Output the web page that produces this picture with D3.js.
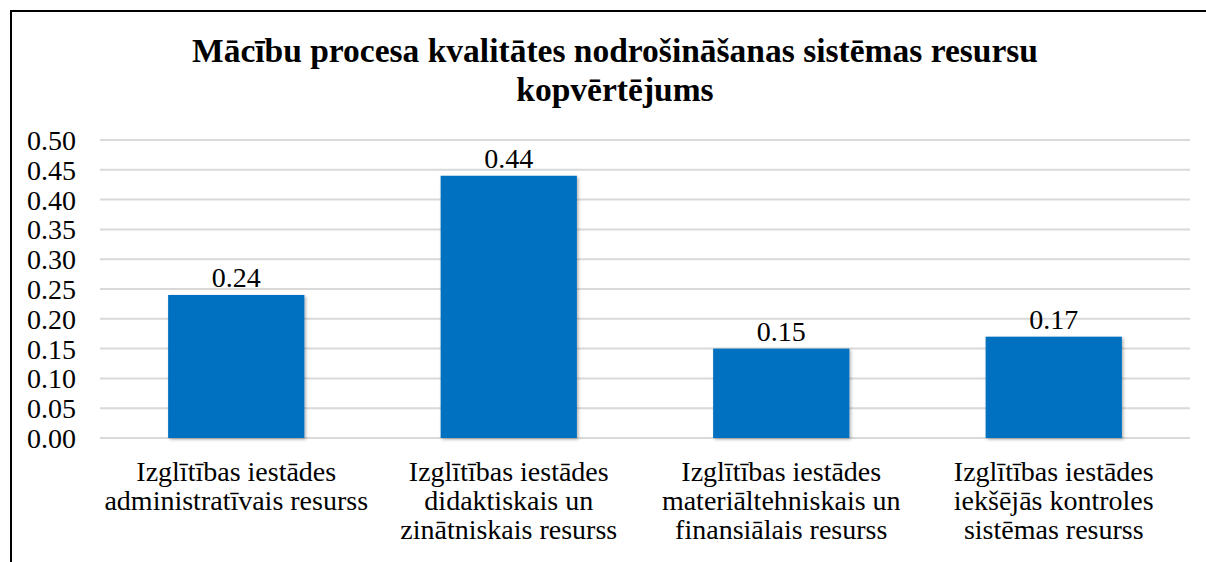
<!DOCTYPE html>
<html>
<head>
<meta charset="utf-8">
<script src="https://cdn.jsdelivr.net/npm/d3@7"></script>
<style>
  body { margin: 0; background: #fff; }
</style>
</head>
<body>
<svg id="chart" width="1206" height="562"></svg>
<script>
var categories = [
  ["Izglītības iestādes", "administratīvais resurss"],
  ["Izglītības iestādes", "didaktiskais un", "zinātniskais resurss"],
  ["Izglītības iestādes", "materiāltehniskais un", "finansiālais resurss"],
  ["Izglītības iestādes", "iekšējās kontroles", "sistēmas resurss"]
]
var values = [0.24, 0.44, 0.15, 0.17]
var yTicks = [0, 0.05, 0.1, 0.15, 0.2, 0.25, 0.3, 0.35, 0.4, 0.45, 0.5]
var titleLines = ["Mācību procesa kvalitātes nodrošināšanas sistēmas resursu", "kopvērtējums"]

var FONT = "Liberation Serif"

var margin = {top: 140, left: 100},
    width = 1090,
    height = 298;

const svg = d3.select("#chart")

// frame
svg.append("rect")
  .attr("x", 11).attr("y", 11)
  .attr("width", 1206).attr("height", 600)
  .attr("fill", "none")
  .attr("stroke", "#000")
  .attr("stroke-width", 2)

// title
svg.append("text")
  .attr("text-anchor", "middle")
  .attr("font-family", FONT)
  .attr("font-size", "33.5px")
  .attr("font-weight", "bold")
  .selectAll("tspan")
  .data(titleLines)
  .join("tspan")
  .attr("x", 615)
  .attr("y", (d, i) => 62 + i * 39)
  .text(d => d)

const g = svg.append("g")
  .attr("transform", `translate(${margin.left}, ${margin.top})`)

const x = d3.scaleBand()
  .range([0, width])
  .domain(d3.range(categories.length))
  .paddingInner(0.5)
  .paddingOuter(0.25)

const y = d3.scaleLinear()
  .domain([0, 0.5])
  .range([height, 0])

// gridlines
g.append("g")
  .selectAll("line")
  .data(yTicks)
  .join("line")
  .attr("x1", 0)
  .attr("x2", width)
  .attr("y1", d => y(d))
  .attr("y2", d => y(d))
  .attr("stroke", "#d9d9d9")
  .attr("stroke-width", 2)

// y axis labels
const yAxis = g.append("g")
  .call(d3.axisLeft(y).tickValues(yTicks).tickFormat(d3.format(".2f")).tickSize(0).tickPadding(24))
yAxis.attr("font-family", FONT).attr("font-size", "28px")
yAxis.select(".domain").remove()
yAxis.selectAll("text")
  .attr("fill", "#000")
  .attr("dy", "0.34em")

// shadow
const defs = svg.append("defs")
const f = defs.append("filter").attr("id", "sh").attr("x", "-10%").attr("y", "-10%").attr("width", "130%").attr("height", "130%")
f.append("feDropShadow").attr("dx", 1.5).attr("dy", 1.5).attr("stdDeviation", 1.5).attr("flood-color", "#000").attr("flood-opacity", 0.3)

g.selectAll(".bar")
  .data(values)
  .join("rect")
  .attr("class", "bar")
  .attr("x", (d, i) => x(i))
  .attr("y", d => y(d))
  .attr("width", x.bandwidth())
  .attr("height", d => y(0) - y(d))
  .attr("fill", "#0070C0")
  .attr("filter", "url(#sh)")

// value labels
g.selectAll(".val")
  .data(values)
  .join("text")
  .attr("class", "val")
  .attr("x", (d, i) => x(i) + x.bandwidth() / 2)
  .attr("y", d => y(d) - 8)
  .attr("text-anchor", "middle")
  .attr("font-family", FONT)
  .attr("font-size", "28px")
  .text(d => d3.format(".2f")(d))

// category labels
g.selectAll(".cat")
  .data(categories)
  .join("text")
  .attr("class", "cat")
  .attr("text-anchor", "middle")
  .attr("font-family", FONT)
  .attr("font-size", "28px")
  .each(function (d, i) {
    d3.select(this).selectAll("tspan")
      .data(d)
      .join("tspan")
      .attr("x", x(i) + x.bandwidth() / 2)
      .attr("y", (t, j) => 341 + j * 29)
      .text(t => t)
  })
</script>
</body>
</html>
